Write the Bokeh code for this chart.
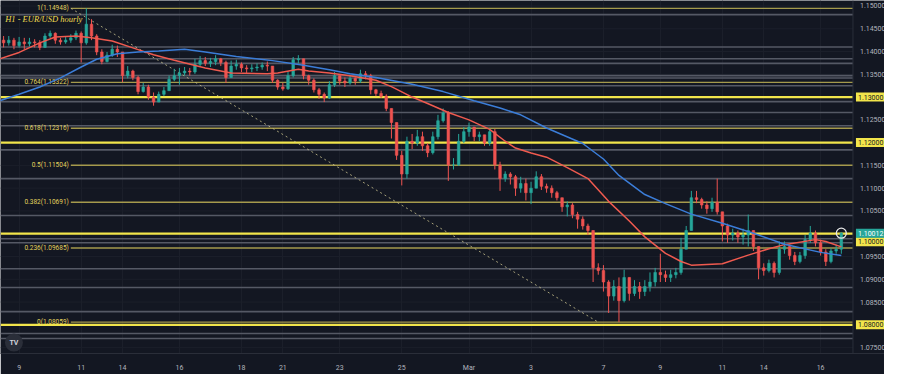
from bokeh.plotting import figure
from bokeh.models import Range1d, FixedTicker, Label, ColumnDataSource
from bokeh.embed import file_html
from bokeh.resources import INLINE
from bokeh.core.properties import value

# ---------------- data (4-hour bars) ----------------
bar_start = -3
first_open = 1.1425
close = [
    1.1419, 1.1425, 1.1413, 1.1421, 1.1417, 1.1421, 1.1419, 1.1409, 1.1434, 1.1440,
    1.1425, 1.1421, 1.1425, 1.1430, 1.1440, 1.1419, 1.1460, 1.1434, 1.1399, 1.1378,
    1.1392, 1.1405, 1.1399, 1.1347, 1.1357, 1.1343, 1.1312, 1.1322, 1.1300, 1.1289,
    1.1306, 1.1314, 1.1339, 1.1347, 1.1353, 1.1357, 1.1355, 1.1372, 1.1380, 1.1374,
    1.1378, 1.1384, 1.1376, 1.1343, 1.1368, 1.1372, 1.1364, 1.1362, 1.1364, 1.1366,
    1.1370, 1.1368, 1.1337, 1.1322, 1.1318, 1.1347, 1.1382, 1.1384, 1.1347, 1.1337,
    1.1316, 1.1306, 1.1298, 1.1327, 1.1347, 1.1335, 1.1331, 1.1341, 1.1335, 1.1351,
    1.1347, 1.1316, 1.1308, 1.1302, 1.1275, 1.1244, 1.1172, 1.1131, 1.1203, 1.1199,
    1.1213, 1.1193, 1.1178, 1.1213, 1.1248, 1.1265, 1.1151, 1.1151, 1.1203, 1.1224,
    1.1234, 1.1213, 1.1217, 1.1199, 1.1224, 1.1151, 1.1121, 1.1131, 1.1125, 1.1100,
    1.1110, 1.1090, 1.1100, 1.1125, 1.1104, 1.1100, 1.1090, 1.1079, 1.1059, 1.1063,
    1.1042, 1.1032, 1.1017, 1.1007, 1.0925, 1.0919, 1.0894, 1.0863, 1.0884, 1.0853,
    1.0904, 1.0869, 1.0884, 1.0873, 1.0884, 1.0894, 1.0915, 1.0910, 1.0904, 1.0910,
    1.0915, 1.0966, 1.1007, 1.1079, 1.1075, 1.1063, 1.1055, 1.1069, 1.1048, 1.1017,
    1.0997, 1.1001, 1.0993, 1.0997, 1.1007, 1.0972, 1.0925, 1.0919, 1.0935, 1.0915,
    1.0966, 1.0972, 1.0952, 1.0939, 1.0952, 1.0987, 1.1001, 1.0980, 1.0960, 1.0939,
    1.0962, 1.0966, 1.10012,
]
high = [
    1.1434, 1.1434, 1.1430, 1.1432, 1.1430, 1.1430, 1.1427, 1.1425, 1.1440, 1.1446,
    1.1442, 1.1430, 1.1434, 1.1438, 1.1446, 1.1444, 1.14948, 1.1471, 1.1438, 1.1405,
    1.1399, 1.1415, 1.1413, 1.1399, 1.1368, 1.1360, 1.1347, 1.1331, 1.1327, 1.1310,
    1.1312, 1.1322, 1.1347, 1.1362, 1.1364, 1.1366, 1.1364, 1.1384, 1.1390, 1.1388,
    1.1386, 1.1392, 1.1386, 1.1380, 1.1380, 1.1382, 1.1376, 1.1370, 1.1372, 1.1374,
    1.1376, 1.1378, 1.1368, 1.1339, 1.1331, 1.1357, 1.1388, 1.1392, 1.1384, 1.1349,
    1.1341, 1.1320, 1.1310, 1.1335, 1.1355, 1.1347, 1.1343, 1.1347, 1.1343, 1.1360,
    1.1357, 1.1351, 1.1318, 1.1314, 1.1306, 1.1261, 1.1244, 1.1182, 1.1213, 1.1219,
    1.1228, 1.1224, 1.1199, 1.1224, 1.1261, 1.1275, 1.1269, 1.1166, 1.1219, 1.1234,
    1.1244, 1.1228, 1.1224, 1.1213, 1.1232, 1.1230, 1.1158, 1.1137, 1.1135, 1.1129,
    1.1125, 1.1121, 1.1114, 1.1137, 1.1131, 1.1110, 1.1106, 1.1094, 1.1079, 1.1071,
    1.1067, 1.1048, 1.1038, 1.1022, 1.0997, 1.0935, 1.0931, 1.0898, 1.0898, 1.0904,
    1.0921, 1.0904, 1.0898, 1.0894, 1.0898, 1.0915, 1.0925, 1.0956, 1.0919, 1.0921,
    1.0925, 1.0991, 1.1017, 1.1094, 1.1094, 1.1079, 1.1071, 1.1079, 1.1121, 1.1048,
    1.1022, 1.1011, 1.1007, 1.1011, 1.1042, 1.1007, 1.0972, 1.0935, 1.0943, 1.0939,
    1.0983, 1.0983, 1.0976, 1.0960, 1.0960, 1.0997, 1.1017, 1.1007, 1.0987, 1.0966,
    1.0968, 1.0976, 1.1003,
]
low = [
    1.1409, 1.1413, 1.1405, 1.1409, 1.1405, 1.1411, 1.1409, 1.1403, 1.1409, 1.1430,
    1.1417, 1.1415, 1.1417, 1.1419, 1.1425, 1.1376, 1.1415, 1.1425, 1.1392, 1.1372,
    1.1376, 1.1388, 1.1388, 1.1333, 1.1341, 1.1337, 1.1306, 1.1310, 1.1294, 1.1281,
    1.1294, 1.1302, 1.1314, 1.1335, 1.1327, 1.1347, 1.1347, 1.1351, 1.1368, 1.1368,
    1.1366, 1.1370, 1.1368, 1.1331, 1.1347, 1.1360, 1.1355, 1.1353, 1.1355, 1.1357,
    1.1360, 1.1357, 1.1331, 1.1316, 1.1314, 1.1316, 1.1343, 1.1374, 1.1339, 1.1327,
    1.1310, 1.1296, 1.1289, 1.1296, 1.1322, 1.1327, 1.1322, 1.1327, 1.1327, 1.1331,
    1.1339, 1.1306, 1.1302, 1.1298, 1.1269, 1.1209, 1.1162, 1.1106, 1.1121, 1.1186,
    1.1193, 1.1182, 1.1168, 1.1174, 1.1207, 1.1244, 1.1116, 1.1141, 1.1149, 1.1199,
    1.1213, 1.1203, 1.1203, 1.1193, 1.1193, 1.1141, 1.1094, 1.1114, 1.1108, 1.1083,
    1.1090, 1.1073, 1.1065, 1.1100, 1.1096, 1.1090, 1.1079, 1.1073, 1.1048, 1.1038,
    1.1034, 1.1011, 1.1009, 1.0997, 1.0894, 1.0910, 1.0873, 1.0826, 1.0853, 1.0806,
    1.0849, 1.0853, 1.0863, 1.0857, 1.0863, 1.0873, 1.0884, 1.0894, 1.0894, 1.0894,
    1.0902, 1.0910, 1.0966, 1.1007, 1.1067, 1.1055, 1.1044, 1.1048, 1.1042, 1.0983,
    1.0980, 1.0985, 1.0980, 1.0976, 1.0972, 1.0962, 1.0900, 1.0908, 1.0915, 1.0904,
    1.0910, 1.0956, 1.0943, 1.0931, 1.0935, 1.0945, 1.0980, 1.0972, 1.0952, 1.0929,
    1.0935, 1.0956, 1.0956,
]

# moving averages
ma_red_x = [-4, 0, 4, 7, 11, 14, 18, 22, 26, 30, 36, 41, 48, 50, 54, 56, 60, 64, 69, 72, 76, 79,
            83, 87, 91, 94, 96, 99, 102, 106, 110, 114, 118, 121, 125, 128, 130, 136, 141, 145,
            148, 154, 156, 159]
ma_red_y = [1.1383, 1.1398, 1.1419, 1.1432, 1.1434, 1.1430, 1.1423, 1.1408, 1.1393, 1.1381,
            1.1364, 1.1353, 1.1351, 1.1353, 1.1361, 1.1357, 1.1353, 1.1347, 1.1337, 1.1323,
            1.1300, 1.1286, 1.1266, 1.1250, 1.1229, 1.1203, 1.1188, 1.1177, 1.1168, 1.1145,
            1.1121, 1.1071, 1.1028, 1.0993, 1.0957, 1.0939, 1.0931, 1.0934, 1.0953, 1.0967,
            1.0976, 1.0987, 1.0983, 1.0971]
ma_blue_x = [-4, 0, 4, 8, 12, 15, 19, 23, 27, 32, 36, 42, 49, 55, 60, 64, 69, 76, 82, 88, 93,
             97, 102, 109, 113, 116, 121, 125, 130, 136, 142, 148, 155, 159]
ma_blue_y = [1.1291, 1.1306, 1.1322, 1.1342, 1.1366, 1.1383, 1.1395, 1.1399, 1.1401, 1.1405,
             1.1399, 1.1389, 1.1380, 1.1370, 1.1360, 1.1351, 1.1343, 1.1328, 1.1312, 1.1292,
             1.1276, 1.1261, 1.1232, 1.1198, 1.1164, 1.1128, 1.1086, 1.1066, 1.1043, 1.1023,
             1.1001, 1.0977, 1.0959, 1.0952]

day_ticks = [0, 12, 20, 31, 43, 51, 62, 74, 87, 99, 113, 124, 136, 144, 155]
day_labels = ["9", "11", "14", "16", "18", "21", "23", "25", "Mar", "3", "7", "9", "11", "14", "16"]

price_ticks = [1.075, 1.080, 1.085, 1.090, 1.095, 1.100, 1.105, 1.110,
               1.115, 1.120, 1.125, 1.130, 1.135, 1.140, 1.145, 1.150]

key_levels = [1.13, 1.12, 1.10, 1.08]
gray_levels = [1.1481, 1.1410, 1.1384, 1.1374, 1.1347, 1.1342, 1.1325, 1.1290, 1.1266, 1.1237,
               1.1184, 1.1121, 1.1040, 1.0989, 1.0980, 1.0923, 1.0882, 1.0829, 1.0781, 1.0770]

fib_ratios = ["1", "0.764", "0.618", "0.5", "0.382", "0.236", "0"]
fib_prices = [1.14948, 1.13322, 1.12316, 1.11504, 1.10691, 1.09685, 1.08059]
fib_start_bar = 10
fib_end_bar = 112
last_price = 1.10012

# ---------------- styling ----------------
BG = "#131722"
GRID = "#1b1f2a"
AXIS_TXT = "#b2b5be"
UP = "#26a69a"
DOWN = "#ef5350"
YELLOW = "#f2e54b"
FIB = "#a59a4c"
GRAY = "#555965"
FONT = "Roboto"

x0 = -3.6            # left edge of the chart (bars)
chart_end = 161.25   # right edge of the price pane; the price scale sits beyond it
x_end = 167.35
p = figure(width=884, height=374, x_range=Range1d(x0, x_end), y_range=Range1d(1.0737, 1.1512),
           output_backend="svg", toolbar_location=None,
           min_border_left=0, min_border_top=0, min_border_right=0, min_border_bottom=0)
p.background_fill_color = BG
p.border_fill_color = BG
p.outline_line_color = None
p.yaxis.visible = False
p.ygrid.visible = False

# time axis
p.xaxis.ticker = FixedTicker(ticks=day_ticks)
p.xaxis.major_label_overrides = {t: l for t, l in zip(day_ticks, day_labels)}
p.xaxis.major_label_text_color = AXIS_TXT
p.xaxis.major_label_text_font = FONT
p.xaxis.major_label_text_font_size = "7px"
p.xaxis.major_tick_line_color = None
p.xaxis.minor_tick_line_color = None
p.xaxis.axis_line_color = "#2a2e39"
p.xaxis.major_label_standoff = 4
p.xgrid.ticker = FixedTicker(ticks=day_ticks)
p.xgrid.grid_line_color = GRID

n_pt = len(price_ticks)
# horizontal price grid (pane only)
p.segment(x0=[x0] * n_pt, y0=price_ticks, x1=[chart_end] * n_pt, y1=price_ticks,
          line_color=GRID, line_width=1)

# horizontal levels
n_g = len(gray_levels)
p.segment(x0=[x0] * n_g, y0=gray_levels, x1=[chart_end] * n_g, y1=gray_levels,
          line_color=GRAY, line_width=1.6)
n_f = len(fib_prices)
p.segment(x0=[fib_start_bar] * n_f, y0=fib_prices, x1=[chart_end] * n_f, y1=fib_prices,
          line_color=FIB, line_width=1.4)
n_k = len(key_levels)
p.segment(x0=[x0] * n_k, y0=key_levels, x1=[chart_end] * n_k, y1=key_levels,
          line_color=YELLOW, line_width=2.3)

# fib labels
fib_src = ColumnDataSource(dict(x=[fib_start_bar] * n_f, y=fib_prices,
                                t=[f"{r}({v:.5f})" for r, v in zip(fib_ratios, fib_prices)]))
p.text(x="x", y="y", text="t", source=fib_src, x_offset=-2, text_align="right",
       text_baseline="middle", text_color="#e3d35e", text_font=value(FONT),
       text_font_size="6.5px")

# fib trend line (dotted)
p.line([fib_start_bar, fib_end_bar], [fib_prices[0], fib_prices[-1]], line_color="#c9c28e",
       line_dash="2 3", line_width=1, line_alpha=0.8)

# candles
xs = list(range(bar_start, bar_start + len(close)))
opens = [first_open] + close[:-1]
tops = [max(o, c) for o, c in zip(opens, close)]
bots = [min(o, c) for o, c in zip(opens, close)]
hi = [max(h, t) for h, t in zip(high, tops)]
lo = [min(l, b) for l, b in zip(low, bots)]
cols = [UP if c >= o else DOWN for o, c in zip(opens, close)]
src = ColumnDataSource(dict(x=xs, top=tops, bottom=bots, hi=hi, lo=lo, c=cols))
p.segment(x0="x", y0="hi", x1="x", y1="lo", color="c", line_width=1, source=src)
p.vbar(x="x", top="top", bottom="bottom", width=0.5, fill_color="c", line_color="c",
       line_width=0.6, source=src)

# moving averages
p.line(ma_red_x, ma_red_y, line_color="#ef5a4f", line_width=1.5)
p.line(ma_blue_x, ma_blue_y, line_color="#3b7dd8", line_width=1.5)

# last price marker
p.scatter([xs[-1]], [last_price], size=10, fill_color=None, line_color="#e8e8e8",
          line_width=1.3)

# title
p.add_layout(Label(x=x0 + 0.9, y=1.1471, text="H1 - EUR/USD hourly", text_font="Liberation Serif",
                   text_font_style="italic", text_font_size="8.5px", text_color="#f0dc50",
                   text_baseline="middle"))

# TV logo
p.scatter([-1.0], [1.0761], size=18, fill_color="#2a2e39", line_color=None)
p.text(x=[-1.0], y=[1.0761], text=["TV"], text_align="center", text_baseline="middle",
       text_color="#d1d4dc", text_font=value(FONT), text_font_style="bold", text_font_size="7px")

# price scale (right)
p.segment(x0=[chart_end], y0=[1.0737], x1=[chart_end], y1=[1.1512], line_color="#2a2e39",
          line_width=1)
p.text(x=[chart_end] * n_pt, y=price_ticks, text=[f"{t:.5f}" for t in price_ticks],
       x_offset=7, text_align="left", text_baseline="middle", text_color=AXIS_TXT,
       text_font=value(FONT), text_font_size="7px")

# price-scale tags
tag_y = [1.13, 1.12, 1.10, 1.08]
tag_dy = [0, 0, -8, 0]
for lv, dy in zip(tag_y, tag_dy):
    p.add_layout(Label(x=chart_end, y=lv, x_offset=3, y_offset=dy, text=f"{lv:.5f}",
                       text_font=FONT, text_font_size="7px", text_color="#131722",
                       text_baseline="middle", background_fill_color=YELLOW, padding=2))
p.add_layout(Label(x=chart_end, y=last_price, x_offset=3, text=f"{last_price:.5f}",
                   text_font=FONT, text_font_size="7px", text_color="#ffffff",
                   text_baseline="middle", background_fill_color="#26a69a", padding=2))

open("out.html", "w").write(file_html(p, INLINE))
